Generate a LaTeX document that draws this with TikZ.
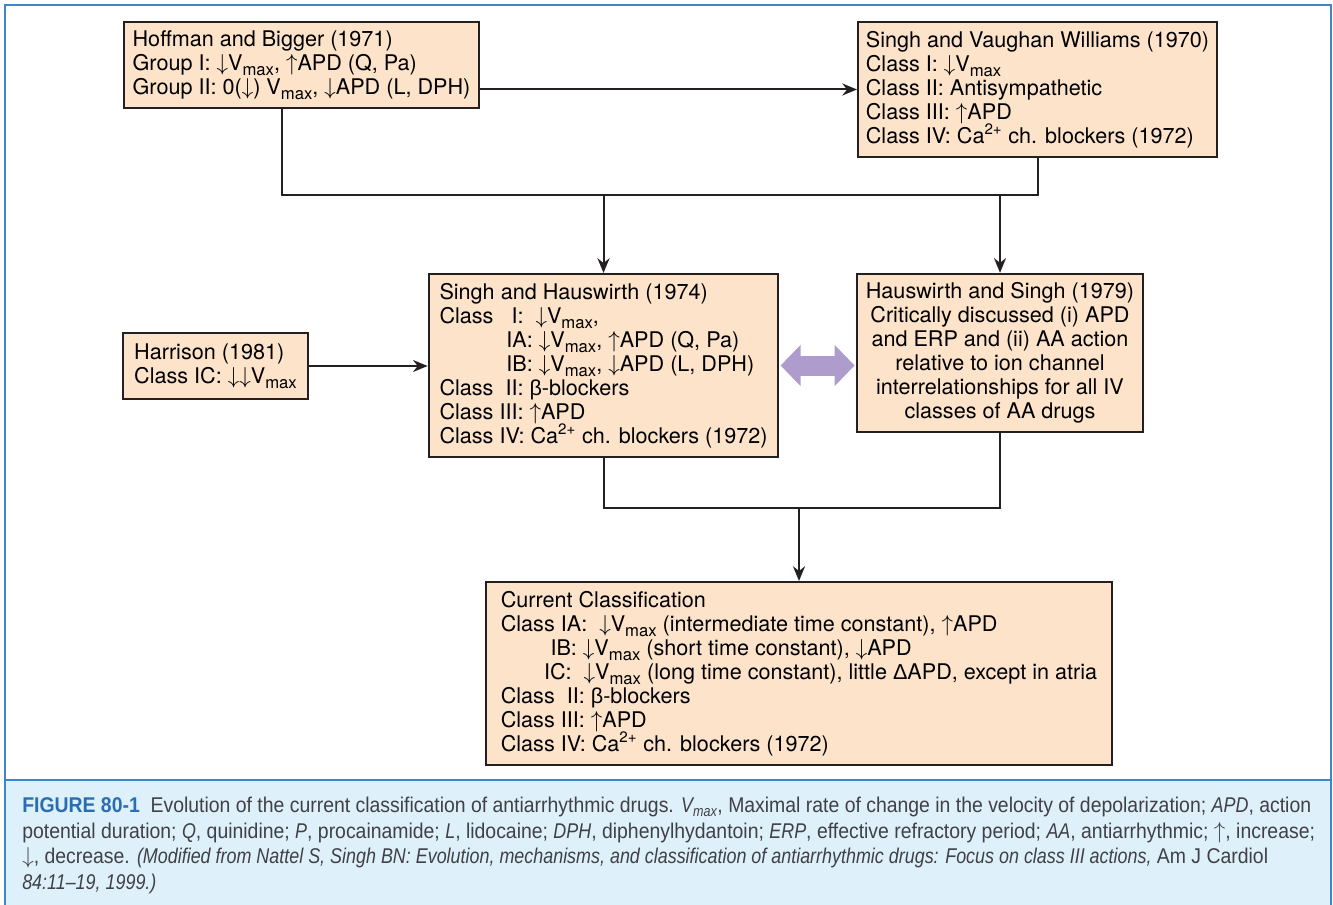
\documentclass[tikz,border=0pt]{standalone}
\usepackage{fontspec}
\setmainfont{TeX Gyre Heros}
\newfontfamily\capfont{Liberation Sans}[FakeStretch=0.91,ItalicFeatures={FakeStretch=0.84}]
\newfontfamily\grk{Liberation Sans}
\usepackage{xcolor}
\definecolor{peach}{rgb}{0.99, 0.89, 0.79}
\definecolor{boxline}{rgb}{0.14, 0.12, 0.13}
\definecolor{frameblue}{rgb}{0.23, 0.53, 0.79}
\definecolor{capbg}{rgb}{0.87, 0.94, 0.98}
\definecolor{capblue}{rgb}{0.16, 0.43, 0.71}
\definecolor{captext}{rgb}{0.25, 0.25, 0.28}
\definecolor{lilac}{rgb}{0.68, 0.61, 0.80}
\usepackage{tikz}
\usetikzlibrary{arrows.meta,calc}
\tikzset{
  >={Stealth[length=11pt,width=9pt]},
  box/.style={rectangle,draw=boxline,line width=1.8pt,fill=peach,align=left,font=\fontsize{16.2}{18}\selectfont},
  wire/.style={draw=boxline,line width=1.5pt},
  arr/.style={wire,->},
  twoway/.style={draw=lilac,line width=15pt,{Triangle[length=15pt,width=30pt]}-{Triangle[length=15pt,width=30pt]}}
}
\newcommand{\vmax}{V\raisebox{-0.42ex}{\fontsize{12.5}{12}\selectfont max}}
\newcommand{\decr}{$\downarrow$}
\newcommand{\incr}{$\uparrow$}
\newcommand{\betablk}{{\grk β}-blockers}

\begin{document}
\begin{tikzpicture}[x=0.75pt,y=-0.75pt]
  \useasboundingbox (0,0) rectangle (1333,905);

  % frame and caption band
  \fill[capbg] (5,780) rectangle (1331,912);
  \draw[frameblue,line width=2.2pt] (5,912) -- (5,5) -- (1331,5) -- (1331,912);
  \draw[frameblue,line width=2.2pt] (5,780) -- (1331,780);

  % the classifications
  \node[box,minimum width=266pt,minimum height=64.5pt] (hb) at (301.5,65) {%
    Hoffman and Bigger (1971)\\
    Group I: \decr\vmax, \incr APD (Q, Pa)\\
    Group II: 0(\decr) \vmax, \decr APD (L, DPH)};
  \node[box,minimum width=269pt,minimum height=101pt] (svw) at (1037.5,89.5) {%
    Singh and Vaughan Williams (1970)\\
    Class I: \decr\vmax\\
    Class II: Antisympathetic\\
    Class III: \incr APD\\
    Class IV: Ca\textsuperscript{2+} ch. blockers (1972)};
  \node[box,minimum width=262pt,minimum height=137pt] (sh) at (603.5,365.5) {%
    Singh and Hauswirth (1974)\\
    Class\ \ \ I:\ \ \decr\vmax,\\
    \hspace*{3.1em}IA: \decr\vmax, \incr APD (Q, Pa)\\
    \hspace*{3.1em}IB: \decr\vmax, \decr APD (L, DPH)\\
    Class\ \ II: \betablk\\
    Class III: \incr APD\\
    Class IV: Ca\textsuperscript{2+} ch. blockers (1972)};
  \node[box,align=center,minimum width=214.5pt,minimum height=118.5pt] (hs) at (1000,353) {%
    Hauswirth and Singh (1979)\\
    Critically discussed (i) APD\\
    and ERP and (ii) AA action\\
    relative to ion channel\\
    interrelationships for all IV\\
    classes of AA drugs};
  \node[box,minimum width=139pt,minimum height=49.5pt] (har) at (215.5,366) {%
    Harrison (1981)\\
    Class IC: \decr\decr\vmax};
  \node[box,minimum width=469.5pt,minimum height=137pt] (cur) at (799,673.5) {%
    Current Classification\\
    Class IA:\ \ \decr\vmax{} (intermediate time constant), \incr APD\\
    \hspace*{2.3em}IB: \decr\vmax{} (short time constant), \decr APD\\
    \hspace*{2.0em}IC:\ \ \decr\vmax{} (long time constant), little {\grk Δ}APD, except in atria\\
    Class\ \ II: \betablk\\
    Class III: \incr APD\\
    Class IV: Ca\textsuperscript{2+} ch. blockers (1972)};

  % connectors
  \coordinate (tbar) at (0,195);
  \coordinate (bbar) at (0,508);
  \draw[arr] (hb.east |- svw.west) -- (svw.west);
  \draw[wire] ($(hb.south)+(-20,0)$) |- (svw.south |- tbar) -- (svw.south);
  \draw[arr] (sh.north |- tbar) -- (sh.north);
  \draw[arr] (hs.north |- tbar) -- (hs.north);
  \draw[arr] (har.east) -- (har.east -| sh.west);
  \draw[twoway] ([xshift=0.9pt]sh.east) -- ([xshift=-0.9pt]sh.east -| hs.west);
  \draw[wire] (sh.south) |- (hs.south |- bbar) -- (hs.south);
  \draw[arr] (cur.north |- bbar) -- (cur.north);

  % caption
  \node[anchor=north west,align=left,inner sep=0pt,text=captext,
    font=\capfont\fontsize{16}{19.2}\selectfont] (cap) at (22,797) {%
    \textbf{\textcolor{capblue}{FIGURE 80-1}}\ \ Evolution of the current classification of antiarrhythmic drugs. \textit{V\textsubscript{max}}, Maximal rate of change in the velocity of depolarization; \textit{APD}, action\\
    potential duration; \textit{Q}, quinidine; \textit{P}, procainamide; \textit{L}, lidocaine; \textit{DPH}, diphenylhydantoin; \textit{ERP}, effective refractory period; \textit{AA}, antiarrhythmic; \incr, increase;\\
    \decr, decrease. \textit{(Modified from Nattel S, Singh BN: Evolution, mechanisms, and classification of antiarrhythmic drugs: Focus on class III actions,} Am J Cardiol\\
    \textit{84:11\textendash 19, 1999.)}};
\end{tikzpicture}
\end{document}
